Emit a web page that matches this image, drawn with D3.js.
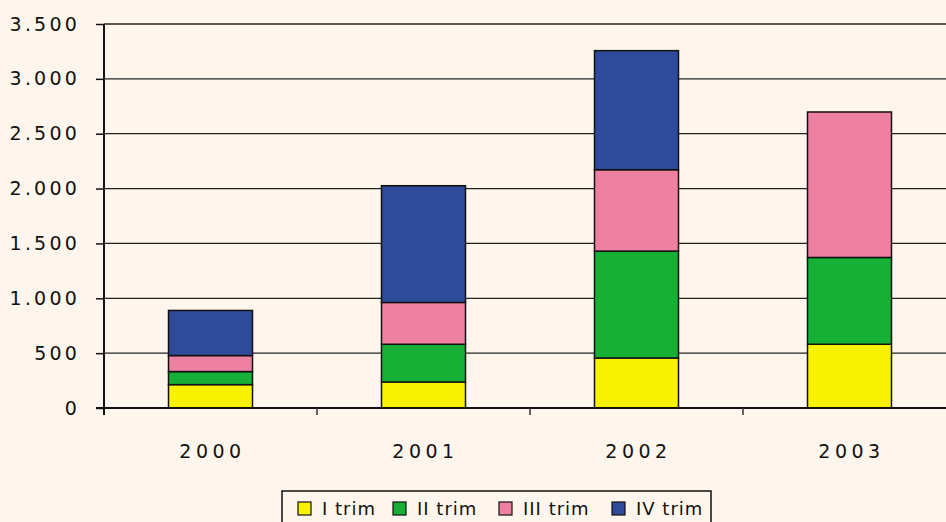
<!DOCTYPE html>
<html>
<head>
<meta charset="utf-8">
<script src="https://cdn.jsdelivr.net/npm/d3@7"></script>
<style>
  html, body { margin: 0; padding: 0; background: #FEF6EC; }
  svg { display: block; }
  text { font-family: "DejaVu Sans", sans-serif; fill: #111; }
</style>
</head>
<body>
<svg id="chart" width="946" height="522"></svg>
<script>
// Quarterly values per year
const years = ["2000", "2001", "2002", "2003"];
const seriesNames = ["I trim", "II trim", "III trim", "IV trim"];
const q1 = [213, 237, 456, 581];
const q2 = [119, 344, 974, 791];
const q3 = [146, 381, 742, 1326];
const q4 = [411, 1064, 1085, 0];
const yTicks = [0, 500, 1000, 1500, 2000, 2500, 3000, 3500];
const colors = ["#F8F200", "#16B036", "#EE80A2", "#2E4A9A"];

const svg = d3.select("#chart");
const W = 946, H = 522;
const plotLeft = 104, plotRight = 956, plotTop = 24, plotBottom = 408;

const x = d3.scaleBand().domain(years).range([plotLeft, plotRight]).paddingInner(0).paddingOuter(0);
const y = d3.scaleLinear().domain([0, 3500]).range([plotBottom, plotTop]);

// Background
svg.append("rect").attr("width", W).attr("height", H).attr("fill", "#FEF6EC");

// Horizontal gridlines
svg.append("g").selectAll("line").data(yTicks.filter(d => d > 0)).join("line")
  .attr("x1", plotLeft).attr("x2", W)
  .attr("y1", d => y(d)).attr("y2", d => y(d))
  .attr("stroke", "#222").attr("stroke-width", 1.3);

// Stacked bars
const rows = years.map((yr, i) => ({ year: yr, s0: q1[i], s1: q2[i], s2: q3[i], s3: q4[i] }));
const stack = d3.stack().keys(["s0", "s1", "s2", "s3"])(rows);
const barW = 84;
svg.append("g").selectAll("g").data(stack).join("g")
  .attr("fill", (d, i) => colors[i])
  .selectAll("rect").data(d => d.filter(p => p[1] - p[0] > 0)).join("rect")
  .attr("x", d => x(d.data.year) + x.bandwidth() / 2 - barW / 2)
  .attr("width", barW)
  .attr("y", d => y(d[1]))
  .attr("height", d => y(d[0]) - y(d[1]))
  .attr("stroke", "#111").attr("stroke-width", 1.5);

// Y axis
const yAxis = svg.append("g").attr("transform", `translate(${plotLeft},0)`)
  .call(d3.axisLeft(y).tickValues(yTicks).tickSize(8).tickPadding(16)
    .tickFormat(d => d3.format(",")(d).replace(/,/g, ".")));
yAxis.select(".domain").attr("stroke", "#111").attr("stroke-width", 2).attr("d", `M0,${plotTop}V${plotBottom + 1}`);
yAxis.selectAll(".tick line").attr("stroke", "#111").attr("stroke-width", 1.5);
yAxis.selectAll(".tick text").attr("font-size", 19).attr("letter-spacing", 3.2)
  .style("font-family", "'DejaVu Sans', sans-serif").attr("fill", "#111");

// X axis
const xAxis = svg.append("g").attr("transform", `translate(0,${plotBottom})`);
xAxis.append("line").attr("x1", plotLeft - 8).attr("x2", W).attr("y1", 0).attr("y2", 0)
  .attr("stroke", "#111").attr("stroke-width", 2);
xAxis.selectAll("line.sep").data(years.slice(1)).join("line").attr("class", "sep")
  .attr("x1", d => x(d)).attr("x2", d => x(d)).attr("y1", 0).attr("y2", 7)
  .attr("stroke", "#333").attr("stroke-width", 1.5);
xAxis.append("line").attr("x1", plotLeft).attr("x2", plotLeft).attr("y1", 0).attr("y2", 7)
  .attr("stroke", "#111").attr("stroke-width", 2);
xAxis.selectAll("text").data(years).join("text")
  .attr("x", d => x(d) + x.bandwidth() / 2 + 2)
  .attr("y", 50)
  .attr("text-anchor", "middle")
  .attr("font-size", 19).attr("letter-spacing", 4.5)
  .text(d => d);

// Legend
const legend = svg.append("g");
legend.append("rect").attr("x", 282).attr("y", 491).attr("width", 429).attr("height", 40)
  .attr("fill", "#FEF6EC").attr("stroke", "#111").attr("stroke-width", 1.5);
const legendX = [298, 393, 499, 612];
const items = legend.selectAll("g.item").data(seriesNames).join("g").attr("class", "item")
  .attr("transform", (d, i) => `translate(${legendX[i]},502)`);
items.append("rect").attr("width", 13).attr("height", 13)
  .attr("fill", (d, i) => colors[i]).attr("stroke", "#111").attr("stroke-width", 1.2);
items.append("text").attr("x", 24).attr("y", 13).attr("font-size", 18)
  .attr("letter-spacing", 1)
  .text(d => d);
</script>
</body>
</html>
